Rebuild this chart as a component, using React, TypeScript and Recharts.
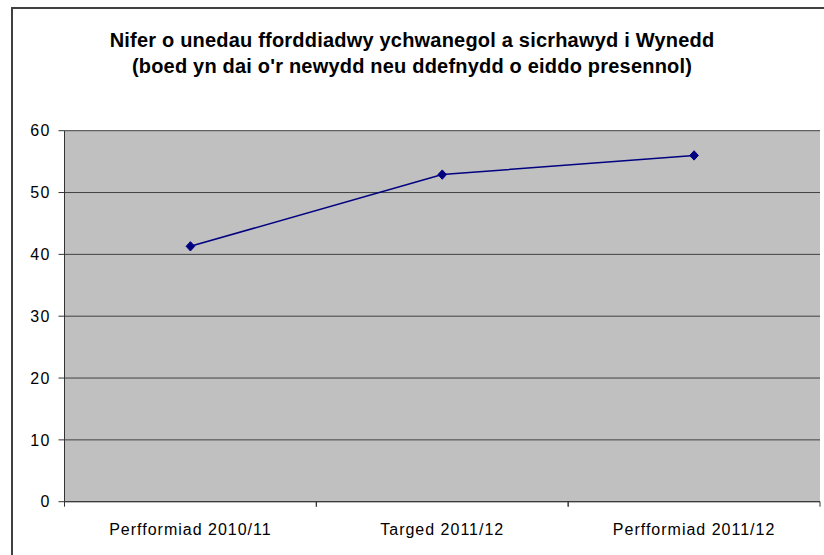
import React from 'react'
import { LineChart, Line, XAxis, YAxis, CartesianGrid } from 'recharts'

const categories = ['Perfformiad 2010/11', 'Targed 2011/12', 'Perfformiad 2011/12']
const values = [41.3, 52.9, 56]
const yTicks = [0, 10, 20, 30, 40, 50, 60]
const titleLines = [
  'Nifer o unedau fforddiadwy ychwanegol a sicrhawyd i Wynedd',
  "(boed yn dai o'r newydd neu ddefnydd o eiddo presennol)",
]

const W = 824
const H = 555
const FONT = '"Liberation Sans", Arial, sans-serif'
// plot area is 64.5 -> 820 wide, three equal bands
const BAND = (820 - 64.5) / categories.length

const data = categories.map((name, i) => ({ name, value: values[i] }))

// Excel style: label at band centre, tick marks at band edges
const XTick = (props: any) => {
  const { x, y, payload } = props
  const left = x - BAND / 2
  const right = x + BAND / 2
  return (
    <g>
      <line x1={left} x2={left} y1={y} y2={y + 5} stroke="#333" />
      <line x1={right} x2={right} y1={y} y2={y + 5} stroke="#333" />
      <text
        x={x}
        y={y + 33}
        textAnchor="middle"
        fontSize={16}
        fontFamily={FONT}
        letterSpacing={1}
        fill="#000"
      >
        {payload.value}
      </text>
    </g>
  )
}

const Diamond = (props: any) => {
  const { cx, cy, index } = props
  if (cx == null || cy == null) return null
  return (
    <polygon
      key={`d-${index}`}
      points={`${cx},${cy - 4.7} ${cx + 4.3},${cy} ${cx},${cy + 4.7} ${cx - 4.3},${cy}`}
      fill="#000080"
      stroke="#000080"
    />
  )
}

export default function App() {
  return (
    <div
      style={{
        position: 'absolute',
        left: 0,
        top: 0,
        width: W,
        height: H,
        overflow: 'hidden',
        background: '#fff',
      }}
    >
      <div
        style={{
          position: 'absolute',
          left: 11,
          top: 7,
          width: 900,
          height: 700,
          border: '2px solid #404040',
        }}
      />
      <div
        style={{
          position: 'absolute',
          left: 0,
          top: 26.8,
          width: W,
          textAlign: 'center',
          fontFamily: FONT,
          fontWeight: 'bold',
          fontSize: 20,
          letterSpacing: 0.2,
          lineHeight: '26px',
          color: '#000',
        }}
      >
        {titleLines.map((t) => (
          <div key={t}>{t}</div>
        ))}
      </div>
      <div style={{ position: 'absolute', left: 0, top: 0 }}>
        <LineChart
          width={W}
          height={H}
          data={data}
          margin={{ top: 130.7, right: 4, bottom: 13.3, left: 14.5 }}
        >
          <CartesianGrid vertical={false} fill="#C0C0C0" stroke="#404040" strokeOpacity={1} />
          <XAxis
            dataKey="name"
            height={40}
            padding={{ left: BAND / 2, right: BAND / 2 }}
            axisLine={{ stroke: '#333' }}
            tickLine={false}
            tickSize={0}
            tickMargin={0}
            interval={0}
            tick={<XTick />}
          />
          <YAxis
            width={50}
            domain={[0, 60]}
            ticks={yTicks}
            axisLine={{ stroke: '#333' }}
            tickLine={{ stroke: '#333' }}
            tickSize={6}
            tickMargin={8}
            tick={{ fontSize: 16, fill: '#000', fontFamily: FONT, letterSpacing: 1.2 }}
          />
          <YAxis
            yAxisId="right"
            orientation="right"
            width={0}
            domain={[0, 60]}
            tick={false}
            tickLine={false}
            axisLine={{ stroke: '#808080' }}
          />
          <Line
            type="linear"
            dataKey="value"
            stroke="#000080"
            strokeWidth={1.5}
            dot={Diamond}
            activeDot={false}
            isAnimationActive={false}
          />
        </LineChart>
      </div>
    </div>
  )
}
